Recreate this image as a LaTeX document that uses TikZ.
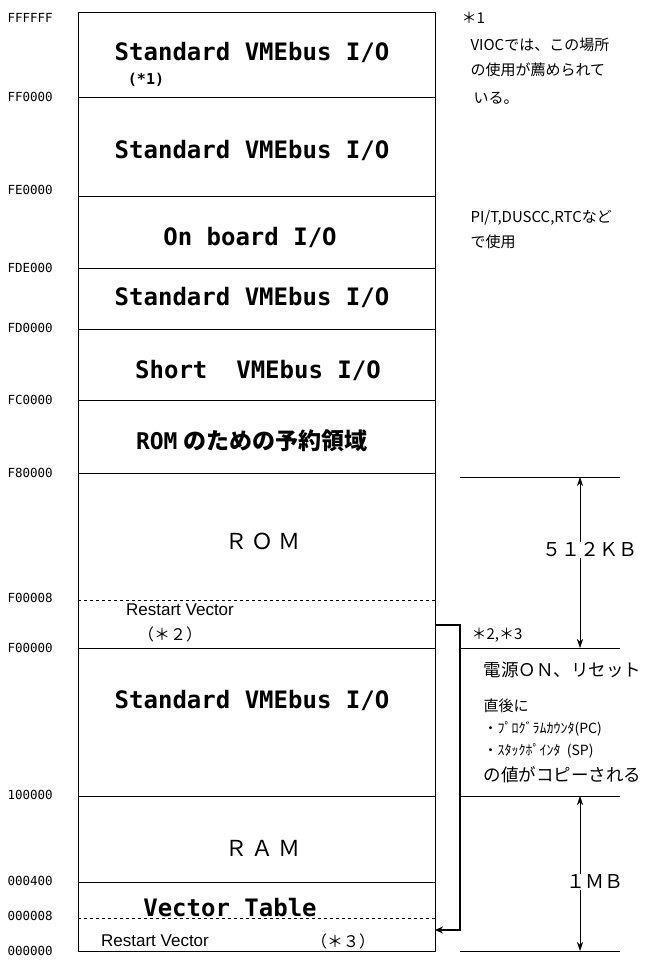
\documentclass[tikz,border=0pt]{standalone}
\usepackage{fontspec}
\setmainfont{Liberation Sans}
\newfontfamily\jp{Noto Sans CJK JP}
\newfontfamily\mono{DejaVu Sans Mono}
\usetikzlibrary{arrows.meta}
\tikzset{
 addr/.style={anchor=west,font=\mono\fontsize{12.5}{12.5}\selectfont},
 big/.style={font=\mono\bfseries\fontsize{24}{24}\selectfont},
 note/.style={anchor=west,font=\jp\fontsize{15}{15}\selectfont},
 rule/.style={line width=0.6pt},
 dashline/.style={dashed,line width=0.4pt}
}
\begin{document}
\begin{tikzpicture}[x=1pt,y=-1pt]
\useasboundingbox (0,0) rectangle (670,971);
\draw[line width=0.8pt] (78,12) rectangle (435,951);
\foreach \y in {97,196,268,329,400,473,648,796,882}{\draw[rule] (78,\y) -- (435,\y);}
\foreach \y in {600,918}{\draw[dashline] (78,\y) -- (435,\y);}
% addresses
\node[addr] (a1) at (4,18) {FFFFFF};
\node[addr] (a2) at (4,97) {FF0000};
\node[addr] (a3) at (4,190) {FE0000};
\node[addr] (a4) at (4,268) {FDE000};
\node[addr] (a5) at (4,328) {FD0000};
\node[addr] (a6) at (4,400) {FC0000};
\node[addr] (a7) at (4,473) {F80000};
\node[addr] (a8) at (4,598) {F00008};
\node[addr] (a9) at (4,648) {F00000};
\node[addr] (a10) at (4,795) {100000};
\node[addr] (a11) at (4,881) {000400};
\node[addr] (a12) at (4,916) {000008};
\node[addr] (a13) at (4,951) {000000};
% box texts
\node[big] (t1) at (252,52) {Standard VMEbus I/O};
\node[font=\mono\bfseries\fontsize{15}{15}\selectfont] (t1b) at (146,80) {(*1)};
\node[big] (t2) at (252,150) {Standard VMEbus I/O};
\node[big] (t3) at (250,237) {On board I/O};
\node[big] (t4) at (252,297) {Standard VMEbus I/O};
\node[big] (t5) at (258,370) {Short\ \ VMEbus I/O};
\node[font=\bfseries\fontsize{23}{23}\selectfont] (t6) at (252,441) {{\mono ROM} {\jp のための予約領域}};
\node[font=\jp\fontsize{22}{22}\selectfont] (t7) at (263,541) {Ｒ Ｏ Ｍ};
\node[font=\fontsize{17}{17}\selectfont] (t8) at (180,610) {Restart Vector};
\node[font=\jp\fontsize{16}{16}\selectfont] (t8b) at (170,634) {（＊２）};
\node[big] (t9) at (252,700) {Standard VMEbus I/O};
\node[font=\jp\fontsize{22}{22}\selectfont] (t10) at (263,848) {Ｒ Ａ Ｍ};
\node[big] (t11) at (230,908) {Vector Table};
\node[font=\fontsize{17}{17}\selectfont] (t12) at (155,941) {Restart Vector};
\node[font=\jp\fontsize{16}{16}\selectfont] (t12b) at (343,941) {（＊３）};
% right rules and arrows
\foreach \y in {477,648,796,951}{\draw[rule] (460,\y) -- (620,\y);}
\coordinate (u1) at (580,477); \coordinate (u2) at (580,648);
\coordinate (v1) at (580,796); \coordinate (v2) at (580,951);
\draw[rule,{Stealth[length=9pt,width=6pt]}-{Stealth[length=9pt,width=6pt]}] (u1) -- (u2);
\draw[rule,{Stealth[length=9pt,width=6pt]}-{Stealth[length=9pt,width=6pt]}] (v1) -- (v2);
\node[fill=white,font=\jp\fontsize{19}{19}\selectfont,inner sep=1pt] (k1) at (590,550) {５１２ＫＢ};
\node[fill=white,font=\jp\fontsize{19}{19}\selectfont,inner sep=1pt] (k2) at (595,882) {１ＭＢ};
% bracket
\coordinate (b1) at (435,625); \coordinate (b2) at (435,930);
\draw[line width=2pt,-{Stealth[length=8pt,width=7pt]}] (b1) -- (460,625) -- (460,930) -- (b2);
% notes
\node[note] (n1) at (458,18) {＊1};
\node[note] (n2) at (467,45) {VIOCでは、この場所};
\node[note] (n3) at (467,70) {の使用が薦められて};
\node[note] (n4) at (470,98) {いる。};
\node[note] (n5) at (467,218) {PI/T,DUSCC,RTCなど};
\node[note] (n6) at (467,242) {で使用};
\node[note] (n7) at (468,635) {＊2,＊3};
\node[note,font=\jp\fontsize{17.5}{17.5}\selectfont] (n8) at (480,670) {電源ＯＮ、リセット};
\node[note] (n9) at (480,706) {直後に};
\node[note,font=\jp\fontsize{14}{14}\selectfont] (n10) at (480,729) {・ﾌﾟﾛｸﾞﾗﾑｶｳﾝﾀ(PC)};
\node[note,font=\jp\fontsize{14}{14}\selectfont] (n11) at (480,751) {・ｽﾀｯｸﾎﾟｲﾝﾀ\ \ (SP)};
\node[note,font=\jp\fontsize{17.5}{17.5}\selectfont] (n12) at (480,775) {の値がコピーされる};
\end{tikzpicture}
\end{document}
